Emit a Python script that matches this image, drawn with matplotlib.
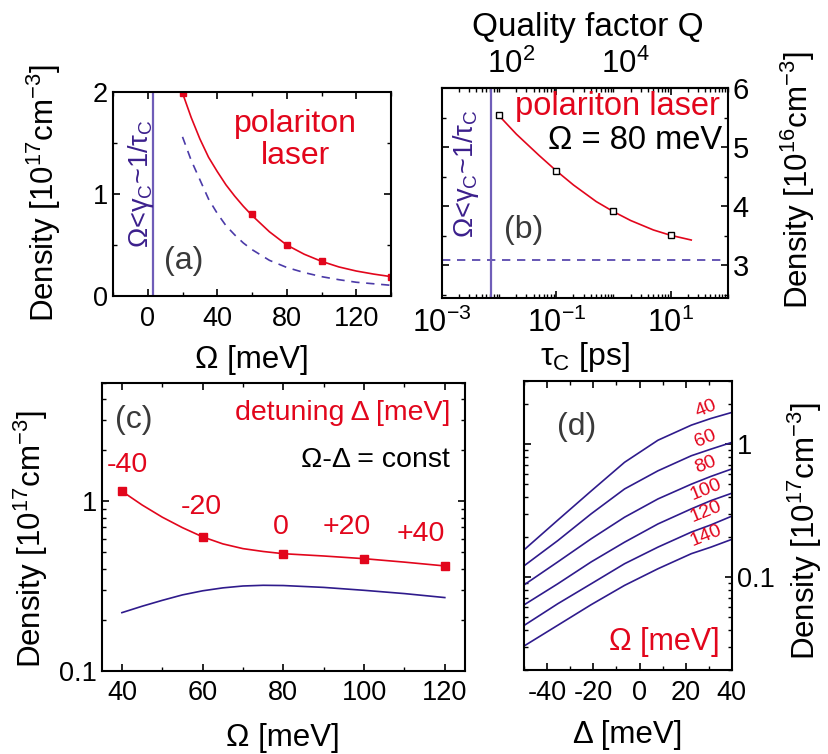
import numpy as np
import matplotlib
matplotlib.use('Agg')
import matplotlib.pyplot as plt
from matplotlib.ticker import MultipleLocator, FixedLocator, LogLocator, NullFormatter, NullLocator

plt.rcParams['font.family'] = ['Liberation Sans', 'DejaVu Sans']
plt.rcParams['mathtext.fontset'] = 'custom'
plt.rcParams['mathtext.rm'] = 'Liberation Sans'
plt.rcParams['mathtext.it'] = 'Liberation Sans:italic'
plt.rcParams['mathtext.bf'] = 'Liberation Sans:bold'
plt.rcParams['axes.unicode_minus'] = False
plt.rcParams['axes.linewidth'] = 1.5

RED = '#e2061c'
NAVY = '#2f1b8c'
VLINE = '#6f5db8'
DASH = '#4b3aa8'
VTEXT = '#3b1f8c'
GREY = '#3a3a3a'

# (a) threshold density vs Rabi splitting
omega_a_pts = [20, 60, 80, 100, 140]
dens_a_pts = [1.99, 0.80, 0.50, 0.34, 0.19]
omega_a_fit = [20, 25, 30, 35, 40, 45, 50, 55, 60, 70, 80, 90, 100, 110, 120, 130, 140]
dens_a_fit = [1.99, 1.75, 1.54, 1.36, 1.22, 1.09, 0.98, 0.88, 0.79, 0.63, 0.50, 0.41, 0.34,
              0.285, 0.245, 0.215, 0.19]
dens_a_dash = [1.56, 1.33, 1.14, 0.95, 0.81, 0.69, 0.60, 0.52, 0.455, 0.35, 0.28, 0.23, 0.19,
               0.16, 0.135, 0.12, 0.105]
omega_cut_a = 3

# (b) density vs cavity lifetime
tau_pts = [0.01, 0.1, 1, 10]
dens_b_pts = [5.55, 4.60, 3.92, 3.52]
tau_fit = [0.01, 0.02, 0.05, 0.1, 0.2, 0.5, 1, 2, 5, 10, 23]
dens_b_fit = [5.53, 5.22, 4.86, 4.60, 4.36, 4.08, 3.91, 3.76, 3.60, 3.51, 3.43]
dens_b_ref = 3.1
tau_cut = 0.0073
q_per_ps = 6150

# (c) density vs Omega at fixed Omega-Delta
omega_c_pts = [40, 60, 80, 100, 120]
dens_c_pts = [1.145, 0.615, 0.49, 0.458, 0.415]
detuning_labels = ['-40', '-20', '0', '+20', '+40']
omega_c_fit = [40, 45, 50, 55, 60, 65, 70, 75, 80, 90, 100, 110, 120]
dens_c_fit = [1.145, 0.95, 0.805, 0.698, 0.616, 0.56, 0.525, 0.505, 0.49, 0.475, 0.458, 0.437, 0.415]
dens_c_blue = [0.22, 0.24, 0.26, 0.28, 0.296, 0.308, 0.316, 0.319, 0.318, 0.31, 0.298, 0.285, 0.27]

# (d) density vs detuning for several Omega
delta_d = [-50, -35.5, -21, -6.5, 8, 22.5, 31, 40]
omega_d = [40, 60, 80, 100, 120, 140]
dens_d_40 = [0.161, 0.268, 0.444, 0.73, 1.07, 1.39, 1.56, 1.73]
dens_d_60 = [0.122, 0.188, 0.299, 0.46, 0.63, 0.818, 0.917, 1.03]
dens_d_80 = [0.0876, 0.13, 0.194, 0.282, 0.387, 0.50, 0.572, 0.65]
dens_d_100 = [0.062, 0.089, 0.13, 0.183, 0.251, 0.326, 0.376, 0.427]
dens_d_120 = [0.0434, 0.063, 0.089, 0.126, 0.168, 0.218, 0.247, 0.287]
dens_d_140 = [0.0304, 0.0434, 0.062, 0.0866, 0.1155, 0.15, 0.168, 0.192]
dens_d = [dens_d_40, dens_d_60, dens_d_80, dens_d_100, dens_d_120, dens_d_140]

TICK = 19.5
LAB = 22.5
DENS17 = 'Density [10$^{17}$cm$^{-3}$]'
CUTOFF = 'Ω<γ$_\\mathrm{C}$~1/τ$_\\mathrm{C}$'

fig = plt.figure(figsize=(8.29, 7.54), dpi=100)
ax_a = fig.add_axes([0.1363, 0.6074, 0.3354, 0.2706])
ax_b = fig.add_axes([0.5332, 0.6048, 0.3446, 0.2785])
ax_c = fig.add_axes([0.1227, 0.1105, 0.4382, 0.3819])
ax_d = fig.add_axes([0.6325, 0.1114, 0.2501, 0.3837])

for ax in (ax_a, ax_b, ax_c, ax_d):
    ax.tick_params(which='both', direction='in', top=True, right=True, labelsize=TICK)
    ax.tick_params(which='major', length=5, width=1.2)
    ax.tick_params(which='minor', length=3, width=1.0)
    ax.tick_params(axis='x', pad=7)

# ---- (a)
ax_a.plot(omega_a_fit, dens_a_fit, color=RED, lw=1.2)
ax_a.plot(omega_a_pts, dens_a_pts, 's', color=RED, ms=5)
ax_a.plot(omega_a_fit, dens_a_dash, '--', color=DASH, lw=1.2, dashes=(5, 4))
ax_a.axvline(omega_cut_a, color=VLINE, lw=1.6)
ax_a.set_xlim(-20, 140)
ax_a.set_ylim(0, 2)
ax_a.xaxis.set_major_locator(MultipleLocator(40))
ax_a.xaxis.set_minor_locator(MultipleLocator(20))
ax_a.yaxis.set_major_locator(MultipleLocator(1))
ax_a.yaxis.set_minor_locator(MultipleLocator(0.5))
ax_a.set_xlabel('Ω [meV]', fontsize=LAB)
ax_a.xaxis.set_label_coords(0.5, -0.24)
ax_a.set_ylabel(DENS17, fontsize=LAB)
ax_a.yaxis.set_label_coords(-0.18, 0.507)
ax_a.text(0.655, 0.765, 'polariton\nlaser', color=RED, fontsize=23, ha='center', va='center',
          transform=ax_a.transAxes, linespacing=1.1)
ax_a.text(0.10, 0.55, CUTOFF, color=VTEXT, fontsize=19.5, rotation=90,
          ha='center', va='center', transform=ax_a.transAxes)
ax_a.text(0.253, 0.17, '(a)', color=GREY, fontsize=23, ha='center', va='center',
          transform=ax_a.transAxes)

# ---- (b)
ax_b.set_xscale('log')
ax_b.plot(tau_fit, dens_b_fit, color=RED, lw=1.2)
ax_b.plot(tau_pts, dens_b_pts, 's', mfc='white', mec='black', mew=1.0, ms=5)
ax_b.axhline(dens_b_ref, color=DASH, lw=1.2, ls='--', dashes=(5, 4))
ax_b.axvline(tau_cut, color=VLINE, lw=1.6)
ax_b.set_xlim(1e-3, 1e2)
ax_b.set_ylim(2.45, 6)
ax_b.xaxis.set_major_locator(FixedLocator([1e-3, 1e-1, 1e1]))
ax_b.xaxis.set_minor_locator(LogLocator(base=10, subs=np.arange(1, 10), numticks=20))
ax_b.xaxis.set_minor_formatter(NullFormatter())
ax_b.tick_params(axis='x', labelsize=22)
ax_b.yaxis.set_major_locator(MultipleLocator(1))
ax_b.yaxis.set_minor_locator(MultipleLocator(0.5))
ax_b.yaxis.tick_right()
ax_b.tick_params(which='both', left=True, right=True, direction='in')
ax_b.tick_params(axis='y', labelsize=21)
ax_b.yaxis.set_label_position('right')
ax_b.set_ylabel('Density [10$^{16}$cm$^{-3}$]', fontsize=LAB)
ax_b.yaxis.set_label_coords(1.18, 0.56)
ax_b.set_xlabel('τ$_\\mathrm{C}$ [ps]', fontsize=23)
ax_b.xaxis.set_label_coords(0.5, -0.2)
sec = ax_b.secondary_xaxis('top', functions=(lambda t: t * q_per_ps, lambda q: q / q_per_ps))
sec.xaxis.set_major_locator(FixedLocator([1e2, 1e4]))
sec.xaxis.set_minor_locator(NullLocator())
sec.tick_params(direction='in', length=0, labelsize=22.5, pad=6)
ax_b.text(0.51, 1.215, 'Quality factor Q', fontsize=24, ha='center', va='bottom',
          transform=ax_b.transAxes)
ax_b.text(0.255, 0.91, 'polariton laser', color=RED, fontsize=23.5, ha='left', va='center',
          transform=ax_b.transAxes)
ax_b.text(0.979, 0.752, 'Ω = 80 meV', color='black', fontsize=23.5, ha='right', va='center',
          transform=ax_b.transAxes)
ax_b.text(0.084, 0.593, CUTOFF, color=VTEXT, fontsize=19.5, rotation=90,
          ha='center', va='center', transform=ax_b.transAxes)
ax_b.text(0.285, 0.324, '(b)', color=GREY, fontsize=23, ha='center', va='center',
          transform=ax_b.transAxes)

# ---- (c)
ax_c.set_yscale('log')
ax_c.plot(omega_c_fit, dens_c_fit, color=RED, lw=1.2)
ax_c.plot(omega_c_pts, dens_c_pts, 's', color=RED, ms=6)
ax_c.plot(omega_c_fit, dens_c_blue, color=NAVY, lw=1.2)
ax_c.set_xlim(35, 125)
ax_c.set_ylim(0.1, 5)
ax_c.xaxis.set_major_locator(MultipleLocator(20))
ax_c.xaxis.set_minor_locator(MultipleLocator(10))
ax_c.yaxis.set_major_locator(FixedLocator([0.1, 1]))
ax_c.yaxis.set_major_formatter(lambda v, p: '%g' % v)
ax_c.yaxis.set_minor_locator(LogLocator(base=10, subs=np.arange(2, 10), numticks=10))
ax_c.yaxis.set_minor_formatter(NullFormatter())
ax_c.set_xlabel('Ω [meV]', fontsize=LAB)
ax_c.xaxis.set_label_coords(0.5, -0.18)
ax_c.set_ylabel(DENS17, fontsize=LAB)
ax_c.yaxis.set_label_coords(-0.142, 0.457)
offsets_c = [(5, 26), (-1, 30), (-3, 27), (-17, 32), (-24, 32)]
for xv, yv, lab, off in zip(omega_c_pts, dens_c_pts, detuning_labels, offsets_c):
    ax_c.annotate(lab, (xv, yv), xytext=off, textcoords='offset pixels', color=RED,
                  fontsize=20.5, ha='center', va='center')
ax_c.text(0.959, 0.894, 'detuning Δ [meV]', color=RED, fontsize=20.5, ha='right', va='center',
          transform=ax_c.transAxes)
ax_c.text(0.959, 0.732, 'Ω-Δ = const', color='black', fontsize=20.5, ha='right', va='center',
          transform=ax_c.transAxes)
ax_c.text(0.087, 0.87, '(c)', color=GREY, fontsize=23, ha='center', va='center',
          transform=ax_c.transAxes)

# ---- (d)
ax_d.set_yscale('log')
for om, dens in zip(omega_d, dens_d):
    ax_d.plot(delta_d, dens, color=NAVY, lw=1.2)
    ax_d.annotate(str(om), (delta_d[-1], dens[-1]), xytext=(-26, 4), textcoords='offset pixels',
                  color=RED, fontsize=14, rotation=22, ha='center', va='center')
ax_d.set_xlim(-50, 40)
ax_d.set_ylim(0.02, 3)
ax_d.xaxis.set_major_locator(MultipleLocator(20))
ax_d.xaxis.set_minor_locator(MultipleLocator(10))
ax_d.yaxis.set_major_locator(FixedLocator([0.1, 1]))
ax_d.yaxis.set_major_formatter(lambda v, p: '%g' % v)
ax_d.yaxis.set_minor_locator(LogLocator(base=10, subs=np.arange(2, 10), numticks=10))
ax_d.yaxis.set_minor_formatter(NullFormatter())
ax_d.yaxis.tick_right()
ax_d.tick_params(which='both', left=True, right=True, direction='in')
ax_d.yaxis.set_label_position('right')
ax_d.set_ylabel(DENS17, fontsize=LAB)
ax_d.yaxis.set_label_coords(1.26, 0.481)
ax_d.set_xlabel('Δ [meV]', fontsize=LAB)
ax_d.xaxis.set_label_coords(0.5, -0.173)
ax_d.text(0.944, 0.098, 'Ω [meV]', color=RED, fontsize=22, ha='right', va='center',
          transform=ax_d.transAxes)
ax_d.text(0.253, 0.841, '(d)', color=GREY, fontsize=23, ha='center', va='center',
          transform=ax_d.transAxes)

fig.savefig('out.png', dpi=100)
